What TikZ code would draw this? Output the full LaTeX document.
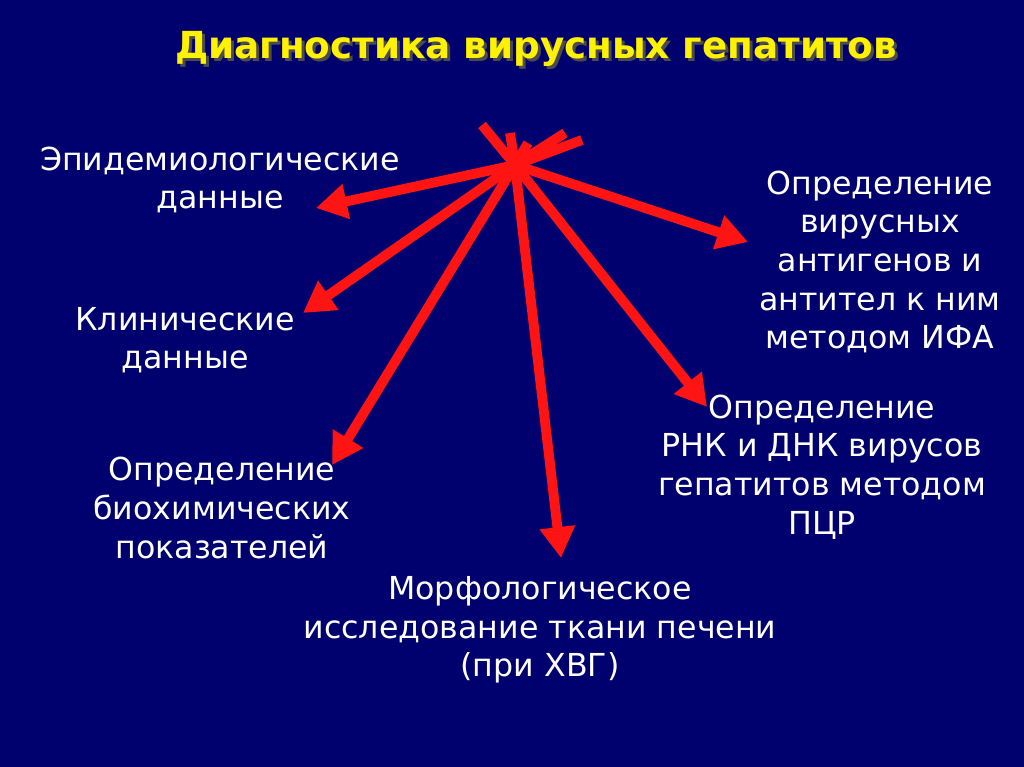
\documentclass[tikz,border=0pt]{standalone}
\usepackage{fontspec}
\setmainfont{DejaVu Sans}
\usetikzlibrary{arrows.meta}
\definecolor{bg}{RGB}{0,0,110}
\definecolor{ar}{RGB}{255,20,20}
\begin{document}
\begin{tikzpicture}[x=0.025cm,y=-0.025cm,
  lbl/.style={text=white,align=center,font=\fontsize{22.5}{27.5}\selectfont},
  arr/.style={draw=ar,line width=7pt,-{Triangle[length=22pt,width=24pt]}},
  stub/.style={draw=ar,line width=7pt}]
\fill[bg] (0,0) rectangle (1024,767);
\useasboundingbox (0,0) rectangle (1024,767);
\node[text=black!70,font=\bfseries\fontsize{26.5}{32}\selectfont] at (539,52) {Диагностика вирусных гепатитов};
\node (title) [text=yellow,font=\bfseries\fontsize{26.5}{32}\selectfont] at (536,49) {Диагностика вирусных гепатитов};
\coordinate (h) at (515,165);
\foreach \p in {(482,125),(510,133),(528,143),(565,133),(582,140)} \draw[stub] (h) -- \p;
\node (a) [lbl] at (220,180) {Эпидемиологические\\данные};
\node (b) [lbl] at (185,340) {Клинические\\данные};
\node (c) [lbl] at (222,508) {Определение\\биохимических\\показателей};
\node (d) [lbl] at (540,630) {Морфологическое\\исследование ткани печени\\(при ХВГ)};
\node (e) [lbl] at (822,467) {Определение\\РНК и ДНК вирусов\\гепатитов методом\\ПЦР};
\node (f) [lbl] at (880,262) {Определение\\вирусных\\антигенов и\\антител к ним\\методом ИФА};
\coordinate (ta) at (316,208);
\coordinate (tb) at (303,313);
\coordinate (tc) at (332,465);
\coordinate (td) at (561,558);
\coordinate (te) at (707,407);
\coordinate (tf) at (748,242);
\foreach \t in {ta,tb,tc,td,te,tf} \draw[arr] (h) -- (\t);
\end{tikzpicture}
\end{document}
